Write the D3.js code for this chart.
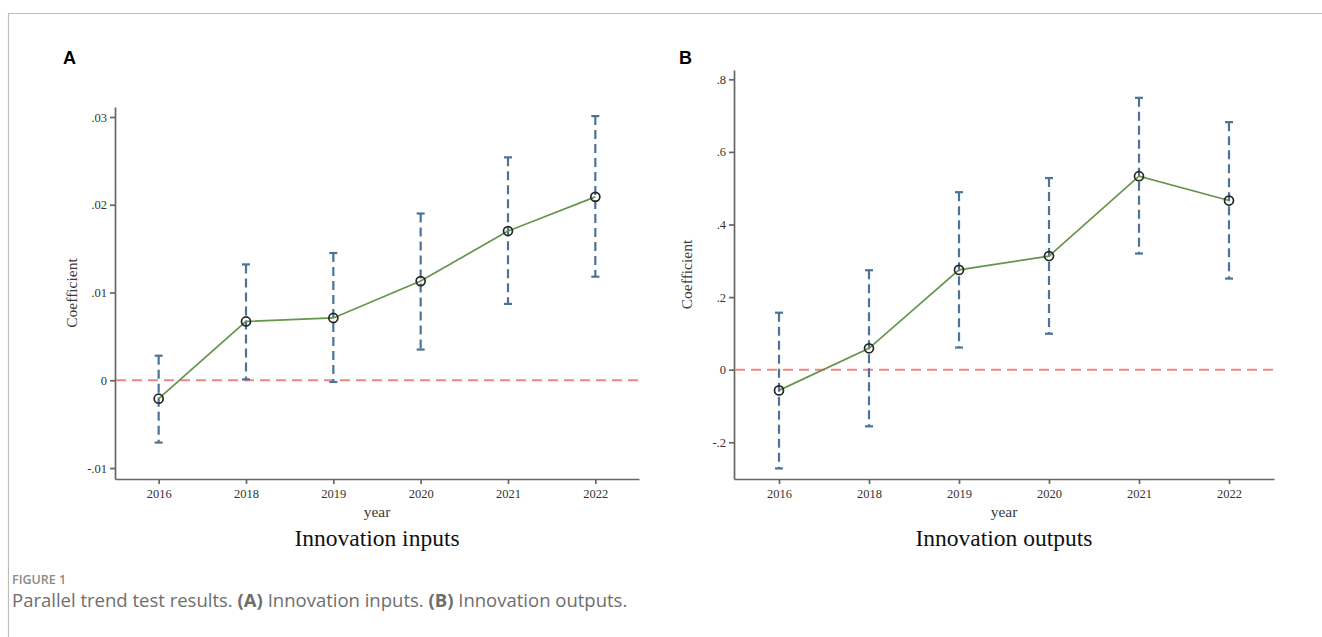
<!DOCTYPE html>
<html lang="en">
<head>
<meta charset="UTF-8">
<title>Parallel trend test results</title>
<script src="https://d3js.org/d3.v7.min.js"></script>
<style>
  body { margin: 0; background: #fff; }
  .axis path, .axis line { stroke: #666; stroke-width: 1.7; }
  .axis-label { font-family: "Liberation Serif", serif; font-size: 15.5px; fill: #3a3a3a; }
  .panel-title { font-family: "Liberation Serif", serif; font-size: 23.5px; fill: #111; }
  .panel-letter { font-family: "Liberation Sans", Arial, sans-serif; font-size: 18px; font-weight: bold; fill: #000; }
  .fig-num { font-family: "Open Sans", sans-serif; font-size: 12.5px; font-weight: 600; fill: #8a8a8a; }
  .caption { font-family: "Open Sans", sans-serif; font-size: 18.5px; fill: #6e6e6e; }
</style>
</head>
<body>
<div id="chart"></div>
<script>
  // Chart data
  const years = ['2016', '2018', '2019', '2020', '2021', '2022'];

  const inputCoef  = [-0.0021, 0.0067, 0.0071, 0.0113, 0.0170, 0.0209];
  const inputLower = [-0.0071, 0.0001, -0.0002, 0.0035, 0.0087, 0.0118];
  const inputUpper = [0.0028, 0.0132, 0.0145, 0.0190, 0.0254, 0.0301];
  const inputTicks = [-0.01, 0, 0.01, 0.02, 0.03];

  const outputCoef  = [-0.057, 0.059, 0.275, 0.313, 0.533, 0.466];
  const outputLower = [-0.272, -0.156, 0.061, 0.099, 0.320, 0.251];
  const outputUpper = [0.157, 0.274, 0.489, 0.528, 0.749, 0.682];
  const outputTicks = [-0.2, 0, 0.2, 0.4, 0.6, 0.8];

  const width = 1322, height = 637;

  const svg = d3.select('#chart').append('svg')
    .attr('width', width)
    .attr('height', height);

  // frame lines (top + left)
  svg.append('path')
    .attr('d', 'M8.5,637 V13.5 H1322')
    .attr('fill', 'none')
    .attr('stroke', '#bdbdbd')
    .attr('stroke-width', 1.2);

  // Stata-style tick labels: ".03", "-.2", "0"
  const stataFmt = d => {
    if (d === 0) return '0';
    const s = String(+d.toFixed(4));
    return s.replace(/^(-?)0\./, '$1.');
  };

  function styleTicks(sel) {
    sel.selectAll('text')
      .style('font-family', '"Liberation Serif", serif')
      .style('font-size', '12.5px')
      .style('fill', '#333');
  }

  function drawPanel(p) {
    const g = svg.append('g');

    const x = d3.scalePoint()
      .domain(years)
      .range([p.left, p.right])
      .padding(0.5);

    // y scale maps tick values to pixel rows; domain stretched to the axis ends
    const y0 = d3.scaleLinear().domain([p.ticks[0], p.ticks[p.ticks.length - 1]]).range([p.lowTickY, p.highTickY]);
    const y = d3.scaleLinear()
      .domain([y0.invert(p.bottom), y0.invert(p.top)])
      .range([p.bottom, p.top]);

    // axes
    g.append('g')
      .attr('class', 'axis')
      .attr('transform', `translate(${p.left},0)`)
      .call(d3.axisLeft(y).tickValues(p.ticks).tickFormat(stataFmt).tickSize(5).tickSizeOuter(0).tickPadding(3))
      .call(styleTicks);

    g.append('g')
      .attr('class', 'axis')
      .attr('transform', `translate(0,${p.bottom})`)
      .call(d3.axisBottom(x).tickSize(5).tickSizeOuter(0).tickPadding(5))
      .call(styleTicks);

    // zero reference line
    g.append('line')
      .attr('x1', p.left + 1)
      .attr('x2', p.right)
      .attr('y1', y(0))
      .attr('y2', y(0))
      .attr('stroke', '#ef8585')
      .attr('stroke-width', 1.9)
      .attr('stroke-dasharray', '10,6');

    const rows = years.map((yr, i) => ({ yr, c: p.coef[i], lo: p.lower[i], hi: p.upper[i] }));

    // confidence intervals
    const ci = g.append('g')
      .attr('stroke', '#4c7398')
      .attr('stroke-width', 2.2);

    ci.selectAll('.ci')
      .data(rows)
      .enter()
      .append('line')
      .attr('x1', d => x(d.yr))
      .attr('x2', d => x(d.yr))
      .attr('y1', d => y(d.hi))
      .attr('y2', d => y(d.lo))
      .attr('stroke-dasharray', '9,5');

    ['hi', 'lo'].forEach(k => {
      ci.selectAll('.cap-' + k)
        .data(rows)
        .enter()
        .append('line')
        .attr('x1', d => x(d.yr) - 4)
        .attr('x2', d => x(d.yr) + 4)
        .attr('y1', d => y(d[k]))
        .attr('y2', d => y(d[k]));
    });

    // coefficient line
    g.append('path')
      .datum(rows)
      .attr('fill', 'none')
      .attr('stroke', '#66944a')
      .attr('stroke-width', 1.7)
      .attr('d', d3.line().x(d => x(d.yr)).y(d => y(d.c)));

    // hollow markers
    g.selectAll('.pt')
      .data(rows)
      .enter()
      .append('circle')
      .attr('cx', d => x(d.yr))
      .attr('cy', d => y(d.c))
      .attr('r', 4.5)
      .attr('fill', 'none')
      .attr('stroke', '#262626')
      .attr('stroke-width', 1.7);

    // labels
    const midX = (p.left + p.right) / 2;
    g.append('text')
      .attr('class', 'axis-label')
      .attr('transform', `translate(${p.ylabelX},${(p.top + p.bottom) / 2}) rotate(-90)`)
      .attr('text-anchor', 'middle')
      .text('Coefficient');

    g.append('text')
      .attr('class', 'axis-label')
      .attr('x', midX)
      .attr('y', p.bottom + 38)
      .attr('text-anchor', 'middle')
      .text('year');

    g.append('text')
      .attr('class', 'panel-title')
      .attr('x', midX)
      .attr('y', p.bottom + 67)
      .attr('text-anchor', 'middle')
      .text(p.title);

    g.append('text')
      .attr('class', 'panel-letter')
      .attr('x', p.letterX)
      .attr('y', 64)
      .text(p.letter);
  }

  drawPanel({
    left: 115, right: 639, top: 107, bottom: 479,
    ticks: inputTicks, lowTickY: 468, highTickY: 117,
    coef: inputCoef, lower: inputLower, upper: inputUpper,
    ylabelX: 77, title: 'Innovation inputs', letter: 'A', letterX: 63
  });

  drawPanel({
    left: 734, right: 1274, top: 70, bottom: 479,
    ticks: outputTicks, lowTickY: 442.3, highTickY: 79.3,
    coef: outputCoef, lower: outputLower, upper: outputUpper,
    ylabelX: 692, title: 'Innovation outputs', letter: 'B', letterX: 679
  });

  // figure caption
  svg.append('text')
    .attr('class', 'fig-num')
    .attr('x', 12)
    .attr('y', 584)
    .text('FIGURE 1');

  const cap = svg.append('text')
    .attr('class', 'caption')
    .attr('x', 12)
    .attr('y', 607);
  cap.append('tspan').text('Parallel trend test results. ');
  cap.append('tspan').attr('font-weight', 700).text('(A)');
  cap.append('tspan').text(' Innovation inputs. ');
  cap.append('tspan').attr('font-weight', 700).text('(B)');
  cap.append('tspan').text(' Innovation outputs.');
</script>
</body>
</html>
